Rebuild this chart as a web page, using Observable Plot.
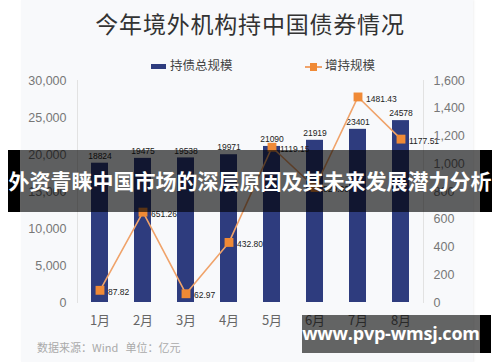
<!DOCTYPE html>
<html><head><meta charset="utf-8">
<script src="https://cdn.jsdelivr.net/npm/d3@7"></script>
<script src="https://cdn.jsdelivr.net/npm/@observablehq/plot@0.6"></script>
<style>
body{margin:0;background:#fff;}
#wrap{position:relative;width:500px;height:362px;overflow:hidden;background:#fff;font-family:"Liberation Sans","Noto Sans CJK SC",sans-serif;}
#card{position:absolute;left:21px;top:0;width:452px;height:362px;background:#f8f9fb;box-shadow:1px 0 2px rgba(0,0,0,0.06);}
#title{position:absolute;left:0;width:500px;top:6px;text-align:center;font-family:"Noto Sans CJK SC",sans-serif;font-size:23px;letter-spacing:0.8px;color:#333;}
.leg{position:absolute;top:56px;font-family:"Noto Sans CJK SC",sans-serif;font-size:12.5px;color:#444;line-height:18px;}
#chart{position:absolute;left:0;top:70px;}
#src{position:absolute;left:37px;top:339px;font-family:"Noto Sans CJK SC",sans-serif;font-size:11px;color:#aaa;white-space:pre;}
.ban{position:absolute;}
.bantext{position:absolute;color:#fff;font-weight:700;white-space:nowrap;text-align:center;}
</style></head>
<body><div id="wrap">
<div id="card"></div>
<div id="title">今年境外机构持中国债券情况</div>
<div class="leg" style="left:151px;"><span style="display:inline-block;width:15px;height:5px;background:#2e3c7e;vertical-align:middle;margin-right:4px;"></span><span id="leg1"></span></div>
<div class="leg" style="left:305px;"><span style="display:inline-block;position:relative;width:17px;height:8px;vertical-align:middle;margin-right:3px;"><span style="position:absolute;left:0;top:3px;width:17px;height:2px;background:#f0a36a;"></span><span style="position:absolute;left:5px;top:0;width:7px;height:8px;background:#f08a36;"></span></span><span id="leg2"></span></div>
<div id="chart"></div>
<div id="src">数据来源：Wind   单位：亿元</div>
<div class="ban" style="left:8px;top:150px;width:12px;height:62px;background:#000;"></div>
<div class="ban" style="left:20px;top:150px;width:460px;height:62px;background:rgba(0,0,0,0.62);"></div>
<div class="ban" style="left:480px;top:150px;width:12px;height:62px;background:#000;"></div>
<div class="bantext" id="ban1" style="left:0;width:500px;top:165px;font-family:'Noto Sans CJK SC',sans-serif;font-size:21px;line-height:30px;"></div>
<div class="ban" style="left:302px;top:315px;width:178px;height:38px;background:rgba(0,0,0,0.6);"></div>
<div class="ban" style="left:480px;top:315px;width:11px;height:38px;background:#000;"></div>
<div class="bantext" id="ban2" style="left:302px;width:178px;top:319px;font-family:'Open Sans',sans-serif;font-size:18px;letter-spacing:-0.2px;line-height:28px;"></div>
</div>
<script>
const months = ["1月","2月","3月","4月","5月","6月","7月","8月"];
const totalHoldings = [18824, 19475, 19538, 19971, 21090, 21919, 23401, 24578];
const increase = [87.82, 651.26, 62.97, 432.80, 1119.15, 829.00, 1481.43, 1177.51];
const leftTicks = [0, 5000, 10000, 15000, 20000, 25000, 30000];
const rightTicks = [0, 200, 400, 600, 800, 1000, 1200, 1400, 1600];
const seriesNames = ["持债总规模", "增持规模"];
const bannerText = "外资青睐中国市场的深层原因及其未来发展潜力分析";
const watermark = "www.pvp-wmsj.com";

document.getElementById("leg1").textContent = seriesNames[0];
document.getElementById("leg2").textContent = seriesNames[1];
document.getElementById("ban1").textContent = bannerText;
document.getElementById("ban2").textContent = watermark;

const leftMax = leftTicks[leftTicks.length-1];
const rightMax = rightTicks[rightTicks.length-1];
const k = leftMax / rightMax;
const data = months.map((m,i)=>({month:m, total:totalHoldings[i], inc:increase[i], incScaled:increase[i]*k}));

const fmt = d3.format(",");
const chart = Plot.plot({
  width: 500, height: 265,
  marginTop: 10, marginBottom: 33, marginLeft: 77, marginRight: 77,
  style: {background: "transparent", fontFamily: "Liberation Sans, Noto Sans CJK SC, sans-serif"},
  x: {domain: months, paddingInner: 0.6, paddingOuter: 0.3, label: null},
  y: {domain: [0, leftMax], label: null},
  marks: [
    Plot.frame({anchor: "left", stroke: "#e2e2e2"}),
    Plot.frame({anchor: "right", stroke: "#e2e2e2"}),
    Plot.barY(data, {x: "month", y: "total", fill: "#2e3c7e"}),
    Plot.text(data, {x: "month", y: "total", text: d => String(d.total), dy: -7, fontSize: 8.5, fill: "#222"}),
    Plot.line(data, {x: "month", y: "incScaled", stroke: "#f0a36a", strokeWidth: 1.6}),
    Plot.dot(data, {x: "month", y: "incScaled", symbol: "square", r: 5, fill: "#f08a36", stroke: "none"}),
    Plot.text(data, {x: "month", y: "incScaled", text: d => d3.format(".2f")(d.inc), dx: 8, dy: 2, textAnchor: "start", fontSize: 8.5, fill: "#222"}),
    Plot.axisY({ticks: leftTicks, tickFormat: fmt, tickSize: 0, tickPadding: 11, fontSize: 12.5, fill: "#777", label: null}),
    Plot.axisY({anchor: "right", ticks: rightTicks.map(v => v*k), tickFormat: d => fmt(Math.round(d/k)), tickSize: 0, tickPadding: 10, fontSize: 12.5, fill: "#777", label: null}),
    Plot.axisX({tickSize: 0, tickPadding: 13, fontSize: 13, fill: "#666", fontFamily: "Noto Sans CJK SC, sans-serif", label: null})
  ]
});
document.getElementById("chart").appendChild(chart);
</script>
</body></html>
